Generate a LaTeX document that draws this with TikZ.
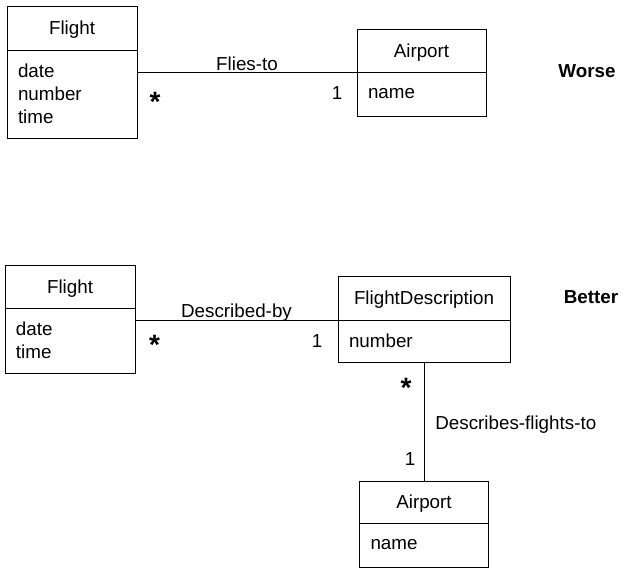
\documentclass[tikz,border=0pt]{standalone}
\usepackage{fontspec}
\setmainfont{Liberation Sans}
\usetikzlibrary{positioning}

\begin{document}
\begin{tikzpicture}[x=1pt, y=-1pt, line width=1pt,
  font=\fontsize{18.8}{23}\selectfont,
  classHead/.style 2 args={draw, outer sep=0pt, text depth=0pt,
    minimum width=#1, minimum height=#2},
  classAttr/.style 2 args={draw, outer sep=0pt, inner xsep=11pt, align=left,
    text width=#1, minimum height=#2},
  mult/.style={anchor=base},
  many/.style={anchor=base, font=\fontsize{28}{28}\selectfont\bfseries},
  verdict/.style={anchor=base, font=\fontsize{18.8}{23}\selectfont\bfseries}]
  \useasboundingbox (0,0) rectangle (631,571);

  % Worse model: classes
  \node (flightW) [classHead={130}{44}] at (72,28) {Flight};
  \node (flightWAttr) [classAttr={108pt}{88}, below=0pt of flightW] %
  {date\\number\\time};
  \node (airportW) [classHead={129}{43}] at (421.5,50.5) {Airport};
  \node (airportWAttr) [classAttr={107pt}{44}, below=0pt of airportW] {name};
  \node (worse) [verdict] at (587,77) {Worse};

  % Better model: classes
  \node (flightB) [classHead={130}{43}] at (70,286.5) {Flight};
  \node (flightBAttr) [classAttr={108pt}{65}, below=0pt of flightB] %
  {date\\time};
  \node (descB) [classHead={172}{44}] at (424,298) {FlightDescription};
  \node (descBAttr) [classAttr={150pt}{42}, below=0pt of descB] {number};
  \node (airportB) [classHead={129}{42}] at (424,502) {Airport};
  \node (airportBAttr) [classAttr={107pt}{44}, below=0pt of airportB] {name};
  \node (better) [verdict] at (591,303) {Better};

  % Worse model: association
  \draw (flightWAttr.east |- airportW.south) -- (airportW.south west)
    node (fliesTo) [midway, anchor=base, yshift=2pt] {Flies-to}
    node (fliesToMany) [pos=0.082, many, yshift=-39pt] {*}
    node (fliesToOne) [pos=0.909, mult, yshift=-27pt] {1};

  % Better model: associations
  \draw (flightBAttr.east |- descB.south) -- (descB.south west)
    node (describedBy) [midway, anchor=base, yshift=3pt] {Described-by}
    node (describedByMany) [pos=0.096, many, yshift=-34pt] {*}
    node (describedByOne) [pos=0.897, mult, yshift=-27pt] {1};
  \draw (descBAttr.south) -- (airportB.north)
    node (describesTo) [midway, right=7.5pt, yshift=-3pt] {Describes-flights-to}
    node (describesToMany) [pos=0.164, many, xshift=-18pt, yshift=-15.5pt] {*}
    node (describesToOne) [pos=0.866, mult, xshift=-14pt] {1};
\end{tikzpicture}
\end{document}
